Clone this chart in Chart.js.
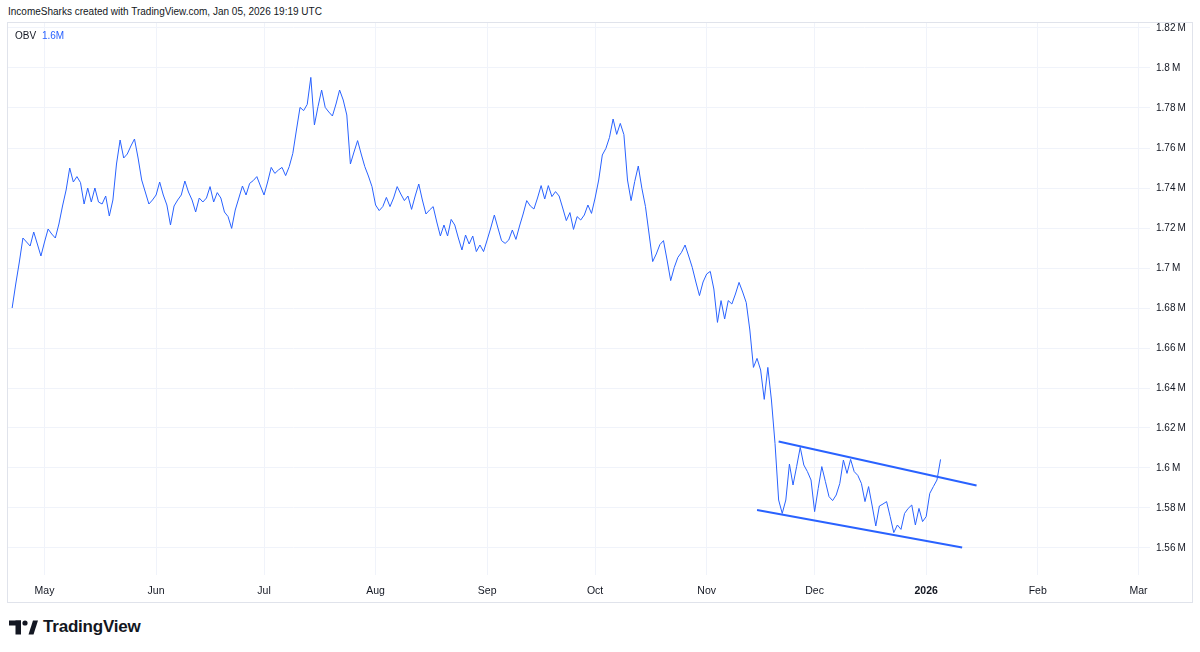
<!DOCTYPE html>
<html>
<head>
<meta charset="utf-8">
<title>OBV</title>
<script src="https://cdn.jsdelivr.net/npm/chart.js@4.4.1/dist/chart.umd.min.js"></script>
<style>
  html, body { margin:0; padding:0; background:#fff; }
  body { width:1200px; height:652px; position:relative; overflow:hidden; font-family:"Liberation Sans", Arial, sans-serif; color:#131722; }
  .caption { position:absolute; left:8px; top:6px; font-size:10px; }
  .pane { position:absolute; left:7px; top:22px; width:1184px; height:579px; border:1px solid #e0e3eb; }
  .legend { position:absolute; left:15px; top:30px; font-size:10px; }
  .legend .val { color:#2962ff; margin-left:3px; }
  .logo { position:absolute; left:9px; top:617px; display:flex; align-items:center; }
  .logo span { font-weight:bold; font-size:17px; margin-left:5px; letter-spacing:-0.2px; }
</style>
</head>
<body>
<div class="caption">IncomeSharks created with TradingView.com, Jan 05, 2026 19:19 UTC</div>
<div class="pane"><canvas id="obv" width="1184" height="579"></canvas></div>
<div class="legend">OBV <span class="val">1.6M</span></div>
<div class="logo">
  <svg width="29" height="15" viewBox="0 0 29 15">
    <rect x="0" y="0.5" width="12" height="5" fill="#131722"/>
    <rect x="6.5" y="0.5" width="5.5" height="14" fill="#131722"/>
    <circle cx="16" cy="3" r="2.6" fill="#131722"/>
    <polygon points="19.5,14.5 24,0.5 29,0.5 24.5,14.5" fill="#131722"/>
  </svg>
  <span>TradingView</span>
</div>

<script>
// OBV values in millions, one per day, starting 2025-04-22
const startDate = '2025-04-22';
const obvApr = [1.680, 1.692, 1.703, 1.715, 1.713, 1.711, 1.718, 1.712, 1.706];
const obvMay = [1.713, 1.7195, 1.717, 1.715, 1.722, 1.731, 1.739, 1.750, 1.743, 1.7457,
  1.7427, 1.732, 1.740, 1.733, 1.740, 1.733, 1.732, 1.736, 1.726, 1.734,
  1.752, 1.764, 1.755, 1.757, 1.761, 1.7645, 1.755, 1.744, 1.738, 1.732, 1.734];
const obvJun = [1.7365, 1.743, 1.7365, 1.7315, 1.7215, 1.731, 1.734, 1.7365, 1.7435, 1.738,
  1.734, 1.728, 1.735, 1.733, 1.735, 1.7407, 1.733, 1.7377, 1.735, 1.728,
  1.7257, 1.7198, 1.729, 1.735, 1.741, 1.7365, 1.7423, 1.7437, 1.7457, 1.741];
const obvJul = [1.7365, 1.743, 1.7503, 1.7473, 1.749, 1.7503, 1.7462, 1.7507, 1.7573, 1.769,
  1.7803, 1.7787, 1.7818, 1.7953, 1.7715, 1.7807, 1.789, 1.7803, 1.778, 1.776,
  1.782, 1.789, 1.784, 1.7765, 1.752, 1.758, 1.7637, 1.757, 1.7507, 1.746, 1.7407];
const obvAug = [1.7315, 1.7287, 1.7307, 1.7353, 1.7307, 1.735, 1.7407, 1.737, 1.7337, 1.736,
  1.7293, 1.736, 1.742, 1.734, 1.727, 1.729, 1.7307, 1.723, 1.716, 1.7215,
  1.716, 1.7243, 1.7215, 1.715, 1.709, 1.7165, 1.712, 1.716, 1.7082, 1.7115, 1.7082];
const obvSep = [1.714, 1.720, 1.7265, 1.720, 1.7137, 1.7123, 1.714, 1.719, 1.7143, 1.721,
  1.727, 1.7337, 1.731, 1.7295, 1.735, 1.7412, 1.7345, 1.7412, 1.7357, 1.7382,
  1.736, 1.730, 1.7237, 1.7277, 1.7193, 1.7257, 1.724, 1.7265, 1.7315, 1.7273];
const obvOct = [1.735, 1.744, 1.7565, 1.7598, 1.7653, 1.7745, 1.7668, 1.7723, 1.7667, 1.744,
  1.7337, 1.7432, 1.751, 1.7398, 1.7307, 1.717, 1.7032, 1.707, 1.7117, 1.7137,
  1.704, 1.6937, 1.7003, 1.7053, 1.7078, 1.7115, 1.706, 1.7003, 1.693, 1.6862, 1.693];
const obvNov = [1.697, 1.6983, 1.6895, 1.6728, 1.6837, 1.6745, 1.6837, 1.682, 1.687, 1.6928,
  1.688, 1.6827, 1.669, 1.6503, 1.6548, 1.649, 1.6343, 1.6503, 1.634, 1.6123,
  1.584, 1.5773, 1.584, 1.602, 1.5915, 1.6007, 1.6103, 1.6015, 1.5982, 1.594];
const obvDec = [1.5782, 1.5898, 1.6007, 1.5932, 1.5857, 1.5837, 1.5865, 1.5923, 1.604, 1.5973,
  1.6043, 1.5982, 1.5963, 1.5923, 1.5832, 1.5907, 1.581, 1.571, 1.581, 1.582,
  1.5832, 1.5757, 1.5677, 1.5715, 1.5693, 1.5773, 1.5798, 1.5815, 1.5715, 1.5798, 1.5732];
const obvJan = [1.5757, 1.5873, 1.5907, 1.594, 1.6043];

// drawn trend channel
const upperTrend = [['2025-11-21', 1.6132], ['2026-01-15', 1.5912]];
const lowerTrend = [['2025-11-15', 1.5790], ['2026-01-11', 1.5602]];

// axes
const monthTicks = ['2025-05-01','2025-06-01','2025-07-01','2025-08-01','2025-09-01','2025-10-01',
  '2025-11-01','2025-12-01','2026-01-01','2026-02-01','2026-03-01'];
const monthLabels = ['May','Jun','Jul','Aug','Sep','Oct','Nov','Dec','2026','Feb','Mar'];
const priceTicks = [1.56, 1.58, 1.60, 1.62, 1.64, 1.66, 1.68, 1.70, 1.72, 1.74, 1.76, 1.78, 1.80, 1.82];
const viewFrom = '2025-04-21', viewTo = '2026-03-04';
const priceMin = 1.5465, priceMax = 1.8225;

const base = Date.UTC(2025, 4, 1);
function dayOf(s){ const p = s.split('-').map(Number); return (Date.UTC(p[0], p[1]-1, p[2]) - base) / 86400000; }

const obvPoints = [];
let d = dayOf(startDate);
[obvApr, obvMay, obvJun, obvJul, obvAug, obvSep, obvOct, obvNov, obvDec, obvJan].forEach(arr => {
  arr.forEach(v => obvPoints.push({ x: d++, y: v }));
});
const trendPts = t => t.map(p => ({ x: dayOf(p[0]), y: p[1] }));
const tickDays = monthTicks.map(dayOf);

const grid = '#f0f3fa';
const family = '"Liberation Sans", Arial, sans-serif';
const fmt = v => parseFloat(v.toFixed(2)) + '\u2009M';

new Chart(document.getElementById('obv'), {
  type: 'line',
  data: {
    datasets: [
      { data: obvPoints, borderColor: '#2962ff', borderWidth: 1, pointRadius: 0, tension: 0 },
      { data: trendPts(upperTrend), borderColor: '#2962ff', borderWidth: 2, pointRadius: 0 },
      { data: trendPts(lowerTrend), borderColor: '#2962ff', borderWidth: 2, pointRadius: 0 }
    ]
  },
  options: {
    responsive: false,
    animation: false,
    events: [],
    layout: { padding: 0 },
    plugins: { legend: { display: false }, tooltip: { enabled: false } },
    scales: {
      x: {
        type: 'linear',
        min: dayOf(viewFrom) - 0.15,
        max: dayOf(viewTo) + 0.2,
        afterBuildTicks: s => { s.ticks = tickDays.map(v => ({ value: v })); },
        afterFit: s => { s.height = 27; s.paddingLeft = 0; s.paddingRight = 0; },
        grid: { color: grid, drawTicks: false },
        border: { display: false },
        ticks: {
          autoSkip: false, maxRotation: 0, padding: 10, color: '#131722',
          font: c => ({ family, size: 10.5,
                        weight: monthLabels[c.index] === '2026' ? 'bold' : 'normal' }),
          callback: (v, i) => monthLabels[i]
        }
      },
      y: {
        position: 'right',
        min: priceMin,
        max: priceMax,
        afterBuildTicks: s => { s.ticks = priceTicks.map(v => ({ value: v })); },
        afterFit: s => { s.width = 42; s.paddingTop = 0; s.paddingBottom = 0; },
        grid: { color: grid, drawTicks: false },
        border: { display: false },
        ticks: {
          padding: 6, color: '#131722',
          font: { family, size: 10 },
          callback: v => fmt(v)
        }
      }
    }
  }
});
</script>
</body>
</html>
